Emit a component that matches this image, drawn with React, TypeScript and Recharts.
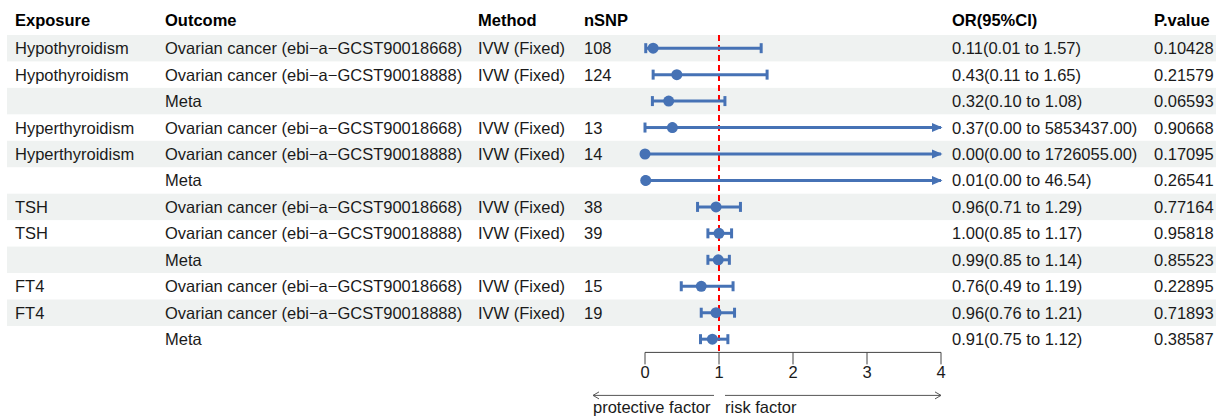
import {
  ScatterChart,
  Scatter,
  XAxis,
  YAxis,
  ErrorBar,
  ReferenceArea,
  ReferenceLine,
} from "recharts"

const FONT = "'Liberation Sans', Arial, Helvetica, sans-serif"
const BLUE = "#4672B5"
const BAND = "#EFF2F1"
const TEXT = "#1a1a1a"
const X_MAX = 4

const headers = ["Exposure", "Outcome", "Method", "nSNP", "OR(95%CI)", "P.value"]
const exposures = [
  "Hypothyroidism", "Hypothyroidism", "",
  "Hyperthyroidism", "Hyperthyroidism", "",
  "TSH", "TSH", "",
  "FT4", "FT4", "",
]
const outcomes = [
  "Ovarian cancer (ebi−a−GCST90018668)", "Ovarian cancer (ebi−a−GCST90018888)", "Meta",
  "Ovarian cancer (ebi−a−GCST90018668)", "Ovarian cancer (ebi−a−GCST90018888)", "Meta",
  "Ovarian cancer (ebi−a−GCST90018668)", "Ovarian cancer (ebi−a−GCST90018888)", "Meta",
  "Ovarian cancer (ebi−a−GCST90018668)", "Ovarian cancer (ebi−a−GCST90018888)", "Meta",
]
const methods = [
  "IVW (Fixed)", "IVW (Fixed)", "",
  "IVW (Fixed)", "IVW (Fixed)", "",
  "IVW (Fixed)", "IVW (Fixed)", "",
  "IVW (Fixed)", "IVW (Fixed)", "",
]
const nsnps = ["108", "124", "", "13", "14", "", "38", "39", "", "15", "19", ""]
const ors = [0.11, 0.43, 0.32, 0.37, 0.0, 0.01, 0.96, 1.0, 0.99, 0.76, 0.96, 0.91]
const lowers = [0.01, 0.11, 0.1, 0.0, 0.0, 0.0, 0.71, 0.85, 0.85, 0.49, 0.76, 0.75]
const uppers = [1.57, 1.65, 1.08, 5853437.0, 1726055.0, 46.54, 1.29, 1.17, 1.14, 1.19, 1.21, 1.12]
const pvalues = [
  "0.10428", "0.21579", "0.06593", "0.90668", "0.17095", "0.26541",
  "0.77164", "0.95818", "0.85523", "0.22895", "0.71893", "0.38587",
]
const xTicks = [0, 1, 2, 3, 4]

// column x positions (px)
const COL_X = [15, 165, 478, 584, 952, 1154]

const rows = exposures.map((e, i) => ({
  row: i + 1,
  exposure: e,
  outcome: outcomes[i],
  method: methods[i],
  nsnp: nsnps[i],
  or: ors[i],
  hi: uppers[i],
  label: `${ors[i].toFixed(2)}(${lowers[i].toFixed(2)} to ${uppers[i].toFixed(2)})`,
  p: pvalues[i],
  err: [ors[i] - lowers[i], uppers[i] - ors[i]],
  errLeft: [ors[i] - lowers[i], 0],
  errRight: [0, X_MAX - ors[i]],
}))

// CI inside the axis range vs. CI running past the right edge (drawn with an arrow)
const closedRows = rows.filter((r) => r.hi <= X_MAX)
const openRows = rows.filter((r) => r.hi > X_MAX)
const arrows = openRows.map((r) => ({ row: r.row, or: X_MAX }))

const headerRow = [{ row: 0, or: 0 }]

const textProps = {
  fontFamily: FONT,
  fontSize: 16.5,
  fill: TEXT,
}

const RowText = (p: any) => {
  const d = p.payload
  const cells = [d.exposure, d.outcome, d.method, d.nsnp, d.label, d.p]
  return (
    <g>
      {cells.map((c: string, j: number) => (
        <text key={j} x={COL_X[j]} y={p.cy + 6} {...textProps}>
          {c}
        </text>
      ))}
    </g>
  )
}

const HeaderText = (p: any) => (
  <g>
    {headers.map((h, j) => (
      <text key={j} x={COL_X[j]} y={p.cy + 4} {...textProps} fontWeight="bold" fill="#000">
        {h}
      </text>
    ))}
  </g>
)

const Dot = (p: any) => <circle cx={p.cx} cy={p.cy} r={5.5} fill={BLUE} />

const ArrowHead = (p: any) => (
  <path
    d={`M${p.cx + 1.5},${p.cy} L${p.cx - 9},${p.cy - 4.5} L${p.cx - 9},${p.cy + 4.5} Z`}
    fill={BLUE}
  />
)

const Band = (p: any) => (
  <rect x={7} y={p.y} width={1209} height={p.height} fill={BAND} />
)

const DirectionLabel = (p: any) => {
  const vb = p.viewBox
  const unit = vb.width / X_MAX
  const one = vb.x + unit
  const right = vb.x + vb.width
  const y = vb.y + 43
  const left = vb.x - 52
  const stroke = "#555"
  return (
    <g>
      <line x1={left} y1={y} x2={one - 5} y2={y} stroke={stroke} strokeWidth={1} />
      <polyline
        points={`${left + 6},${y - 3.5} ${left},${y} ${left + 6},${y + 3.5}`}
        fill="none"
        stroke={stroke}
      />
      <line x1={one + 6} y1={y} x2={right} y2={y} stroke={stroke} strokeWidth={1} />
      <polyline
        points={`${right - 6},${y - 3.5} ${right},${y} ${right - 6},${y + 3.5}`}
        fill="none"
        stroke={stroke}
      />
      <text x={left} y={y + 18} textAnchor="start" {...textProps}>
        protective factor
      </text>
      <text x={one + 6} y={y + 18} textAnchor="start" {...textProps}>
        risk factor
      </text>
    </g>
  )
}

export default function App() {
  return (
    <div style={{ position: "absolute", left: 0, top: 0, background: "#fff" }}>
      <ScatterChart
        width={1222}
        height={419}
        margin={{ top: 8.5, right: 281, left: 645, bottom: 36.6 }}
        style={{ fontFamily: FONT }}
      >
        <XAxis
          type="number"
          dataKey="or"
          domain={[0, X_MAX]}
          ticks={xTicks}
          height={30}
          tickSize={12}
          tick={{ fontSize: 16.5, fill: TEXT, fontFamily: FONT }}
          tickLine={{ stroke: "#444" }}
          axisLine={{ stroke: "#444" }}
          label={{ content: DirectionLabel }}
        />
        <YAxis type="number" dataKey="row" domain={[-0.5, 12.5]} reversed hide />
        {rows
          .filter((r) => r.row % 2 === 1)
          .map((r) => (
            <ReferenceArea
              key={r.row}
              y1={r.row - 0.5}
              y2={r.row + 0.5}
              ifOverflow="visible"
              shape={Band}
            />
          ))}
        <ReferenceLine
          segment={[
            { x: 1, y: 0.5 },
            { x: 1, y: 12.5 },
          ]}
          stroke="#FF0000"
          strokeWidth={2}
          strokeDasharray="6 4"
        />
        <Scatter data={closedRows} shape={Dot} isAnimationActive={false}>
          <ErrorBar
            dataKey="err"
            direction="x"
            width={5}
            strokeWidth={3}
            stroke={BLUE}
            isAnimationActive={false}
          />
        </Scatter>
        <Scatter data={openRows} shape={Dot} isAnimationActive={false}>
          <ErrorBar
            dataKey="errLeft"
            direction="x"
            width={5}
            strokeWidth={3}
            stroke={BLUE}
            isAnimationActive={false}
          />
          <ErrorBar
            dataKey="errRight"
            direction="x"
            width={0}
            strokeWidth={3}
            stroke={BLUE}
            isAnimationActive={false}
          />
        </Scatter>
        <Scatter data={arrows} shape={ArrowHead} isAnimationActive={false} />
        <Scatter data={rows} shape={RowText} isAnimationActive={false} />
        <Scatter data={headerRow} shape={HeaderText} isAnimationActive={false} />
      </ScatterChart>
    </div>
  )
}
